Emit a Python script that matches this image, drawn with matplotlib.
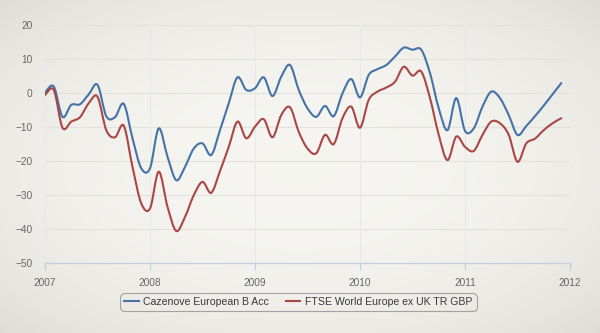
"""Fund vs index cumulative performance, 2007-2011."""
import matplotlib
matplotlib.use("Agg")
import matplotlib.pyplot as plt
import numpy as np
from matplotlib.lines import Line2D
from matplotlib.patches import PathPatch
from matplotlib.path import Path

plt.rcParams["font.family"] = ["Liberation Sans", "DejaVu Sans"]

START_YEAR = 2007
YEARS = [2007, 2008, 2009, 2010, 2011, 2012]
Y_TICKS = [-50, -40, -30, -20, -10, 0, 10, 20]

# monthly cumulative performance (%), Jan 2007 .. Dec 2011
fund_name = "Cazenove European B Acc"
fund = [
    0.0, 1.8, -7.1, -3.6, -3.4, -0.5, 2.3, -6.9, -7.2, -3.3, -13.4, -22.2,
    -22.2, -10.5, -18.8, -25.7, -21.8, -16.4, -14.9, -18.3, -11.0, -3.1, 4.5, 0.8,
    1.3, 4.5, -1.0, 4.7, 8.1, 0.8, -4.6, -7.1, -3.9, -6.9, -0.2, 4.0,
    -1.4, 5.2, 6.9, 8.1, 10.6, 13.2, 12.6, 12.6, 5.7, -4.6, -11.0, -1.6,
    -11.2, -10.5, -4.1, 0.3, -1.6, -6.6, -12.4, -9.8, -6.9, -3.8, -0.5, 2.8,
]
index_name = "FTSE World Europe ex UK TR GBP"
index = [
    -0.7, 0.8, -10.3, -8.5, -7.2, -3.1, -1.2, -11.0, -13.1, -9.7, -21.8, -32.5,
    -34.0, -23.2, -33.5, -40.6, -36.5, -30.1, -26.2, -29.4, -23.0, -15.9, -8.5, -13.4,
    -10.0, -7.8, -13.1, -6.6, -4.3, -11.5, -16.4, -17.8, -12.4, -15.1, -7.5, -4.1,
    -10.3, -2.1, 0.3, 1.5, 3.2, 7.6, 5.0, 6.2, -1.6, -12.4, -19.8, -12.9,
    -15.9, -17.1, -12.4, -8.5, -9.0, -12.4, -20.3, -14.9, -13.5, -11.0, -9.0, -7.5,
]

BLUE = "#4572A7"
RED = "#AA4643"


def spline_path(x, y):
    # Catmull-Rom style bezier through the monthly points
    n = len(x)
    verts = [(x[0], y[0])]
    codes = [Path.MOVETO]
    for i in range(n - 1):
        a = max(i - 1, 0)
        d = min(i + 2, n - 1)
        c1 = (x[i] + (x[i + 1] - x[a]) / 6, y[i] + (y[i + 1] - y[a]) / 6)
        c2 = (x[i + 1] - (x[d] - x[i]) / 6, y[i + 1] - (y[d] - y[i]) / 6)
        verts += [c1, c2, (x[i + 1], y[i + 1])]
        codes += [Path.CURVE4] * 3
    return Path(verts, codes)


fig = plt.figure(figsize=(6, 3.33), dpi=100)

# paper-like background with darker edges
bg = fig.add_axes([0, 0, 1, 1], zorder=-10)
yy, xx = np.mgrid[0:1:333j, 0:1:600j]
dist = np.sqrt(((xx - 0.5) / 0.5) ** 2 + ((yy - 0.5) / 0.5) ** 2) / np.sqrt(2)
light = np.array([0.963, 0.961, 0.945])
dark = np.array([0.87, 0.865, 0.845])
shade = np.clip(dist, 0, 1)[..., None] ** 2.5
bg.imshow(light - (light - dark) * shade, aspect="auto", extent=(0, 1, 0, 1))
bg.axis("off")

ax = fig.add_axes([0.075, 0.2102, 0.875, 0.7162])
ax.set_facecolor("none")

months = START_YEAR + np.arange(len(fund)) / 12
for values, color in [(fund, BLUE), (index, RED)]:
    ax.add_patch(PathPatch(spline_path(months, values), fill=False,
                           edgecolor=color, lw=1.5, capstyle="round", zorder=3))

ax.set_xlim(YEARS[0], YEARS[-1])
ax.set_ylim(Y_TICKS[0], Y_TICKS[-1])
ax.set_xticks(YEARS)
ax.set_yticks(Y_TICKS)
ax.set_xticklabels([str(y) for y in YEARS])

for yv in Y_TICKS[1:]:
    ax.axhline(yv, color="#e3e3de", lw=0.75, zorder=1)
for xv in YEARS[:-1]:
    ax.axvline(xv, color="#e6e9ec", lw=0.75, zorder=1)

for side in ["top", "right", "left"]:
    ax.spines[side].set_visible(False)
ax.spines["bottom"].set_color("#C0D0E0")
ax.spines["bottom"].set_linewidth(0.9)

ax.tick_params(axis="y", length=0, pad=9, labelsize=7.3, labelcolor="#666666")
ax.tick_params(axis="x", length=5, width=0.9, color="#C0D0E0", pad=6,
               labelsize=7.3, labelcolor="#666666")

handles = [Line2D([], [], color=BLUE, lw=1.5), Line2D([], [], color=RED, lw=1.5)]
leg = fig.legend(handles, [fund_name, index_name], loc="center",
                 bbox_to_anchor=(0.4975, 0.093), ncol=2, fontsize=7.6,
                 handlelength=1.35, handletextpad=0.45, columnspacing=1.6,
                 borderpad=0.4, frameon=True, fancybox=True)
frame = leg.get_frame()
frame.set_facecolor("none")
frame.set_edgecolor("#909090")
frame.set_linewidth(0.8)
frame.set_boxstyle("round", pad=0, rounding_size=0.45)
for t in leg.get_texts():
    t.set_color("#3a3a3a")

fig.savefig("out.png", dpi=100)
